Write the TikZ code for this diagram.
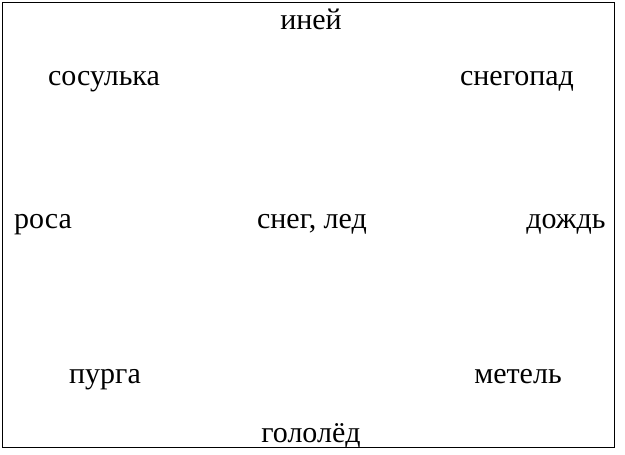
\documentclass[tikz,border=0pt]{standalone}
\usepackage{fontspec}
\setmainfont{Liberation Serif}
\begin{document}
\begin{tikzpicture}[x=1pt,y=-1pt,
  word/.style={anchor=base,inner sep=0pt,font=\fontsize{30}{35}\selectfont}]
\useasboundingbox (0,0) rectangle (625,455);
\draw[line width=1pt] (2,2) rectangle (614,447);
\node[word] (inei) at (311,30) {иней};
\node[word] (sosul) at (104,85) {сосулька};
\node[word] (snegopad) at (517,85) {снегопад};
\node[word] (rosa) at (43,228) {роса};
\node[word] (sneg) at (312,228) {снег, лед};
\node[word] (dozhd) at (566,228) {дождь};
\node[word] (purga) at (105,383) {пурга};
\node[word] (metel) at (518,383) {метель};
\node[word] (gololed) at (311,442) {гололёд};
\end{tikzpicture}
\end{document}
